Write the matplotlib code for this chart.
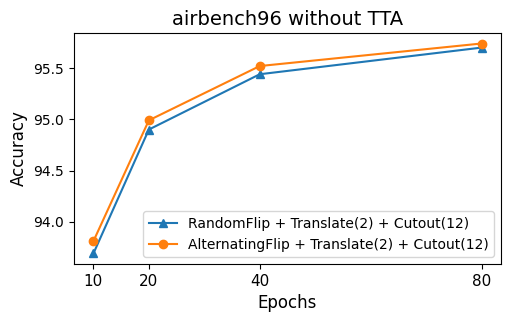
import matplotlib
matplotlib.use("Agg")
import matplotlib.pyplot as plt

epochs = [10, 20, 40, 80]
random_flip = [93.69, 94.90, 95.44, 95.70]
alt_flip = [93.81, 94.99, 95.52, 95.74]
labels = ["RandomFlip + Translate(2) + Cutout(12)",
          "AlternatingFlip + Translate(2) + Cutout(12)"]

fig = plt.figure(figsize=(5.1, 3.22), dpi=100)
ax = fig.add_axes([74/510, 1-264/322, (501-74)/510, (264-33)/322])
ax.plot(epochs, random_flip, marker="^", label=labels[0])
ax.plot(epochs, alt_flip, marker="o", label=labels[1])
ax.set_xticks(epochs)
ax.set_xticklabels([str(e) for e in epochs], fontsize=11)
ax.set_yticks([94.0, 94.5, 95.0, 95.5])
ax.tick_params(axis="y", labelsize=10)
ax.set_xlabel("Epochs", fontsize=12)
ax.set_ylabel("Accuracy", fontsize=12)
ax.set_title("airbench96 without TTA", fontsize=14)
ax.legend(loc="lower right", fontsize=10)
fig.savefig("out.png", dpi=100)
